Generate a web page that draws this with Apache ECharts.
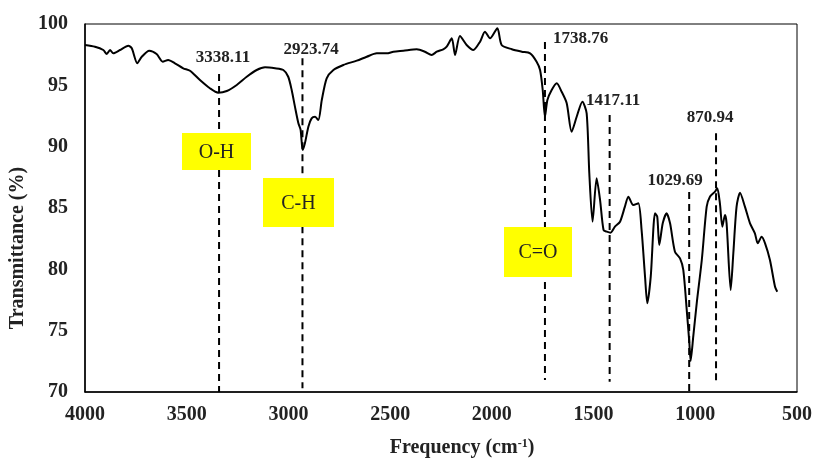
<!DOCTYPE html>
<html>
<head>
<meta charset="utf-8">
<script src="https://cdn.jsdelivr.net/npm/echarts@6/dist/echarts.min.js"></script>
<style>
html,body{margin:0;padding:0;background:#fff;}
#chart{width:815px;height:458px;}
</style>
</head>
<body>
<div id="chart"></div>
<script>
// Spectrum (wavenumber, transmittance)
const wavenumbers = [4000,3951,3910,3893,3877,3861,3828,3787,3770,3743,3721,3684,3648,3618,3591,3558,3517,3484,3435,3386,3345,3303,3254,3205,3156,3115,3066,3025,3001,2984,2968,2951,2940,2930,2919,2902,2886,2869,2853,2836,2812,2779,2730,2664,2615,2566,2517,2484,2435,2369,2329,2296,2271,2239,2222,2197,2181,2157,2124,2091,2058,2034,2009,1973,1952,1902,1853,1812,1780,1763,1750,1739,1727,1706,1681,1657,1632,1608,1583,1555,1534,1521,1505,1485,1468,1451,1435,1416,1395,1370,1346,1329,1305,1280,1264,1247,1236,1219,1198,1187,1177,1160,1141,1124,1100,1075,1059,1042,1029,1023,1010,993,968,944,928,903,892,879,867,854,846,826,813,797,780,756,731,707,693,674,657,633,608,597];
const transmittance = [98.29,98.15,97.88,97.55,97.88,97.61,97.88,98.23,98.02,96.80,97.33,97.82,97.55,96.93,97.07,96.80,96.39,96.19,95.43,94.76,94.40,94.54,95.03,95.70,96.25,96.47,96.39,96.25,95.70,94.62,93.26,91.90,91.36,89.73,90.27,91.63,92.31,92.44,92.17,93.80,95.57,96.25,96.66,97.01,97.33,97.61,97.61,97.74,97.82,97.94,97.74,97.47,97.74,97.94,98.15,98.83,97.47,99.02,98.29,97.88,98.56,99.37,98.83,99.65,98.29,97.94,97.74,97.61,96.93,96.25,94.62,92.44,93.80,94.62,95.17,94.48,93.54,91.22,92.44,93.67,92.72,87.83,83.88,87.42,85.65,83.21,83.07,82.99,83.48,83.88,85.11,85.92,85.24,85.38,83.21,79.40,77.23,79.40,84.57,84.29,81.98,83.75,84.57,83.75,81.44,80.90,79.95,76.68,73.97,72.53,74.51,77.23,80.76,85.11,85.92,86.33,86.61,85.38,83.48,84.43,83.75,78.32,81.31,85.11,86.25,85.11,83.75,82.94,82.12,82.66,82.12,80.76,78.58,78.18];

// Peak marker lines
const peakLabels = ['3338.11','2923.74','1738.76','1417.11','1029.69','870.94'];
const peakLineX = [3341, 2931, 1739, 1421, 1030, 898];
const peakLineTop = [95.92, 97.2, 98.53, 92.58, 86.3, 91.1];
const peakLineBottom = [70, 70.3, 70.98, 70.84, 70, 70.57];

// Functional group tags
const groupTags = ['O-H', 'C-H', 'C=O'];

const xTicks = [4000,3500,3000,2500,2000,1500,1000,500];
const yTicks = [70,75,80,85,90,95,100];

const FONT = '"Liberation Serif", "Times New Roman", serif';
const chart = echarts.init(document.getElementById('chart'));

const series = [{
  type: 'line',
  data: wavenumbers.map((w, i) => [w, transmittance[i]]),
  showSymbol: false,
  smooth: 0.25,
  lineStyle: { color: '#000', width: 2 },
  z: 5,
  silent: true
}];
peakLineX.forEach((x, i) => {
  series.push({
    type: 'line',
    data: [[x, peakLineTop[i]], [x, peakLineBottom[i]]],
    showSymbol: false,
    lineStyle: { color: '#000', width: 2, type: [7, 5] },
    z: 3,
    silent: true
  });
});

const labelStyle = { fontFamily: FONT, fontWeight: 'bold', fontSize: 17, fill: '#222' };
const peakLabelPos = [
  { x: 223, y: 58, align: 'center' },
  { x: 311, y: 50, align: 'center' },
  { x: 553, y: 39, align: 'left' },
  { x: 586, y: 101, align: 'left' },
  { x: 675, y: 181, align: 'center' },
  { x: 710, y: 118, align: 'center' }
];
const boxes = [
  { x: 182, y: 133, w: 69, h: 37 },
  { x: 263, y: 178, w: 71, h: 49 },
  { x: 504, y: 227, w: 68, h: 50 }
];

const graphic = [];
peakLabels.forEach((t, i) => {
  const p = peakLabelPos[i];
  graphic.push({ type: 'text', x: p.x, y: p.y, z: 20,
    style: Object.assign({ text: t, textAlign: p.align, textVerticalAlign: 'middle' }, labelStyle) });
});
groupTags.forEach((t, i) => {
  const b = boxes[i];
  graphic.push({ type: 'rect', shape: { x: b.x, y: b.y, width: b.w, height: b.h }, z: 30,
    style: { fill: '#ffff00' } });
  graphic.push({ type: 'text', x: b.x + b.w / 2, y: b.y + b.h / 2 + 1, z: 31,
    style: { text: t, textAlign: 'center', textVerticalAlign: 'middle', fontFamily: FONT, fontSize: 20, fill: '#222' } });
});
graphic.push({ type: 'text', x: 18, y: 248, rotation: Math.PI / 2, z: 20,
  style: { text: 'Transmittance (%)', textAlign: 'center', textVerticalAlign: 'middle', fontFamily: FONT, fontWeight: 'bold', fontSize: 20, fill: '#222' } });
graphic.push({ type: 'text', x: 462, y: 448, z: 20,
  style: { rich: {
      a: { fontFamily: FONT, fontWeight: 'bold', fontSize: 20, fill: '#222' },
      s: { fontFamily: FONT, fontWeight: 'bold', fontSize: 12, fill: '#222', verticalAlign: 'top', padding: [0,0,8,0] }
    },
    text: '{a|Frequency (cm}{s|-1}{a|)}', textAlign: 'center', textVerticalAlign: 'middle' } });

chart.setOption({
  animation: false,
  backgroundColor: '#fff',
  grid: { left: 85, right: 18, top: 24, bottom: 66, show: true, borderColor: '#000', borderWidth: 1, backgroundColor: 'transparent' },
  xAxis: {
    type: 'value', inverse: true, min: xTicks[xTicks.length - 1], max: xTicks[0], interval: 500,
    axisLine: { show: true, lineStyle: { color: '#000', width: 1.5 } },
    axisTick: { show: false },
    splitLine: { show: false },
    axisLabel: { fontFamily: FONT, fontWeight: 'bold', fontSize: 20, color: '#222', margin: 13, formatter: v => String(v) }
  },
  yAxis: {
    type: 'value', min: yTicks[0], max: yTicks[yTicks.length - 1], interval: 5,
    axisLine: { show: true, lineStyle: { color: '#000', width: 1.5 } },
    axisTick: { show: false },
    splitLine: { show: false },
    axisLabel: { fontFamily: FONT, fontWeight: 'bold', fontSize: 20, color: '#222', margin: 17, formatter: v => String(v) }
  },
  series: series,
  graphic: graphic
});
</script>
</body>
</html>
